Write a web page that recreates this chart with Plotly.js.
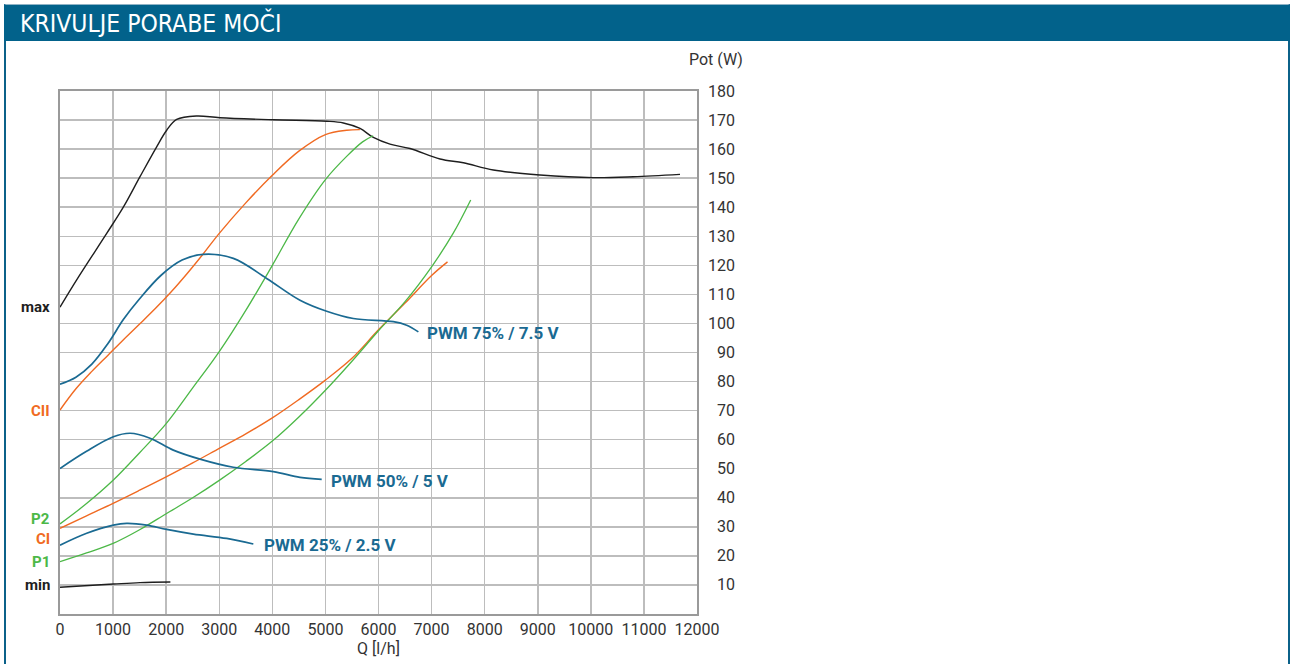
<!DOCTYPE html>
<html><head><meta charset="utf-8">
<script src="https://cdn.plot.ly/plotly-3.0.1.min.js"></script>
<style>
html,body{margin:0;padding:0;background:#fff;width:1290px;height:664px;overflow:hidden;font-family:Roboto,sans-serif}
#frame{position:absolute;left:4px;top:4px;width:1282px;height:700px;border-left:2px solid #0b6189;border-right:2px solid #0b6189;border-top:1px solid #8fb3c6}
#head{position:absolute;left:4px;top:5px;width:1286px;height:36px;background:#02628b;color:#fff;font-size:24.5px;line-height:37px;padding-left:16px;box-sizing:border-box;font-family:"Liberation Sans Narrow","DejaVu Sans Condensed",sans-serif}
#chart{position:absolute;left:0;top:0;width:1290px;height:664px}
</style></head>
<body>
<div id="frame"></div>
<div id="head">KRIVULJE PORABE MOČI</div>
<div id="chart"></div>
<script>
// ---- data ----
const chartTitle = 'KRIVULJE PORABE MOČI';
const xTitle = 'Q [l/h]';
const yTitle = 'Pot (W)';
const xTicks = [0,1000,2000,3000,4000,5000,6000,7000,8000,9000,10000,11000,12000];
const yTicks = [10,20,30,40,50,60,70,80,90,100,110,120,130,140,150,160,170,180];

const maxX = [0, 314, 880, 1193, 1507, 1821, 2010, 2198, 2575, 3014, 4019, 5024, 5338, 5652, 5903, 6217, 6594, 7159, 7599, 8164, 9043, 10047, 10801, 11680];
const maxY = [105.6, 115, 131, 140, 150.5, 160.8, 166.5, 170.2, 171.4, 170.8, 170.1, 169.6, 169, 167.1, 164, 161.7, 160.2, 156.6, 155.3, 152.8, 151.1, 150.2, 150.5, 151.3];

const minX = [0, 1005, 1507, 2080];
const minY = [9.2, 10.3, 10.8, 11];

const ciiX = [0, 300, 600, 900, 1200, 1500, 1800, 2100, 2400, 2700, 3000, 3500, 4000, 4500, 5000, 5400, 5650];
const ciiY = [70.2, 77.5, 83.5, 89, 94.5, 99.8, 105.2, 111, 117.3, 124, 131, 141.5, 151, 159.3, 165, 166.5, 166.7];

const ciX = [0, 500, 1000, 1500, 2000, 2500, 3000, 3500, 4000, 4500, 5000, 5500, 6000, 6500, 7000, 7300];
const ciY = [29.5, 33.8, 38.1, 42.6, 47.2, 52, 57, 62, 67.5, 73.8, 80.5, 88, 97.8, 107, 116.5, 121.2];

const p2X = [0, 500, 1000, 1500, 2000, 2500, 3000, 3500, 4000, 4500, 5000, 5400, 5700, 5900];
const p2Y = [31, 38, 46, 55.5, 65.5, 77.8, 90.3, 104.5, 120, 136, 149.5, 157.5, 162.5, 164.6];

const p1X = [0, 500, 1000, 1500, 2000, 2500, 3000, 3500, 4000, 4500, 5000, 5500, 6000, 6500, 7000, 7400, 7737];
const p1Y = [18, 21, 24.3, 29, 34.5, 40, 46, 52.5, 59.5, 67.8, 77, 87, 97.5, 107.5, 119.5, 130.8, 142.5];

const pwm75X = [0, 300, 600, 900, 1200, 1500, 1900, 2300, 2700, 3265, 3893, 4521, 5024, 5526, 6280, 6531, 6751];
const pwm75Y = [79.1, 81.5, 86, 93, 101.5, 108.5, 116.5, 121.8, 123.8, 122.4, 115.5, 108, 104.2, 101.7, 100.6, 99.4, 97.1];

const pwm50X = [0, 500, 1005, 1319, 1696, 2135, 2638, 3265, 4019, 4521, 4930];
const pwm50Y = [50.1, 56, 61, 62.2, 60.5, 56.4, 53.3, 50.5, 49, 47, 46.3];

const pwm25X = [0, 503, 1005, 1256, 1633, 2010, 2512, 3140, 3642];
const pwm25Y = [23.7, 27.8, 30.6, 31.2, 30.6, 29.1, 27.5, 26, 24.1];

const leftLabels = ['max', 'CII', 'P2', 'CI', 'P1', 'min'];
const leftLabelY = [106, 70.2, 32.8, 25.9, 18.2, 10];
const pwmLabels = ['PWM 75% / 7.5 V', 'PWM 50% / 5 V', 'PWM 25% / 2.5 V'];
const pwmLabelX = [6880, 5070, 3810];
const pwmLabelY = [96.7, 45.8, 23.7];

// ---- styles ----
const BLACK = '#1e1e1e', ORANGE = '#f06a22', GREEN = '#4cb847', BLUE = '#1a6a92';
const FONT = 'Roboto, "DejaVu Sans Condensed", sans-serif';
const leftColors = [BLACK, ORANGE, GREEN, ORANGE, GREEN, BLACK];

function tr(x, y, color, w) {
  return {x: x, y: y, type: 'scatter', mode: 'lines',
    line: {color: color, width: w, shape: 'spline', smoothing: 1}, hoverinfo: 'skip', showlegend: false};
}
const data = [
  tr(maxX, maxY, BLACK, 1.4), tr(minX, minY, BLACK, 1.4),
  tr(ciiX, ciiY, ORANGE, 1.4), tr(ciX, ciY, ORANGE, 1.4),
  tr(p2X, p2Y, GREEN, 1.3), tr(p1X, p1Y, GREEN, 1.3),
  tr(pwm75X, pwm75Y, BLUE, 1.7), tr(pwm50X, pwm50Y, BLUE, 1.7), tr(pwm25X, pwm25Y, BLUE, 1.7)
];

const ann = [];
yTicks.forEach(v => ann.push({x: 1.0628, xref: 'paper', y: v, yref: 'y', text: String(v), showarrow: false,
  xanchor: 'right', yanchor: 'middle', font: {family: FONT, size: 16, color: '#333'}}));
ann.push({x: 1.0754, xref: 'paper', y: 1.0593, yref: 'paper', text: yTitle, showarrow: false,
  xanchor: 'right', yanchor: 'middle', font: {family: FONT, size: 16, color: '#333'}});
leftLabels.forEach((t, i) => ann.push({x: 0, xref: 'x', y: leftLabelY[i], yref: 'y', text: '<b>' + t + '</b>',
  showarrow: false, xanchor: 'right', yanchor: 'middle', xshift: -9, height: 13, borderpad: 0,
  font: {family: FONT, size: 15, color: leftColors[i]}}));
pwmLabels.forEach((t, i) => ann.push({x: pwmLabelX[i], xref: 'x', y: pwmLabelY[i], yref: 'y', text: '<b>' + t + '</b>',
  showarrow: false, xanchor: 'left', yanchor: 'middle', font: {family: FONT, size: 17, color: BLUE}}));

const layout = {
  width: 1290, height: 664,
  margin: {l: 60, r: 593, t: 91, b: 50, pad: 0},
  paper_bgcolor: 'rgba(0,0,0,0)', plot_bgcolor: '#fff',
  font: {family: FONT, size: 16, color: '#333'},
  xaxis: {range: [0, 12000], tickvals: xTicks, ticktext: xTicks.map(String), showgrid: true,
    gridcolor: '#bdbdbd', gridwidth: 1.5, showline: true, linecolor: '#9a9a9a', linewidth: 2, mirror: true,
    zeroline: false, ticks: '', tickfont: {family: FONT, size: 16, color: '#333'},
    title: {text: xTitle, font: {family: FONT, size: 16, color: '#333'}, standoff: 5}},
  yaxis: {range: [0, 180], tickvals: yTicks, showticklabels: false, side: 'right', showgrid: true,
    gridcolor: '#bdbdbd', gridwidth: 1.5, showline: true, linecolor: '#9a9a9a', linewidth: 2, mirror: true,
    zeroline: false, ticks: ''},
  annotations: ann
};
Plotly.newPlot('chart', data, layout, {staticPlot: true, displayModeBar: false});
</script>
</body></html>
